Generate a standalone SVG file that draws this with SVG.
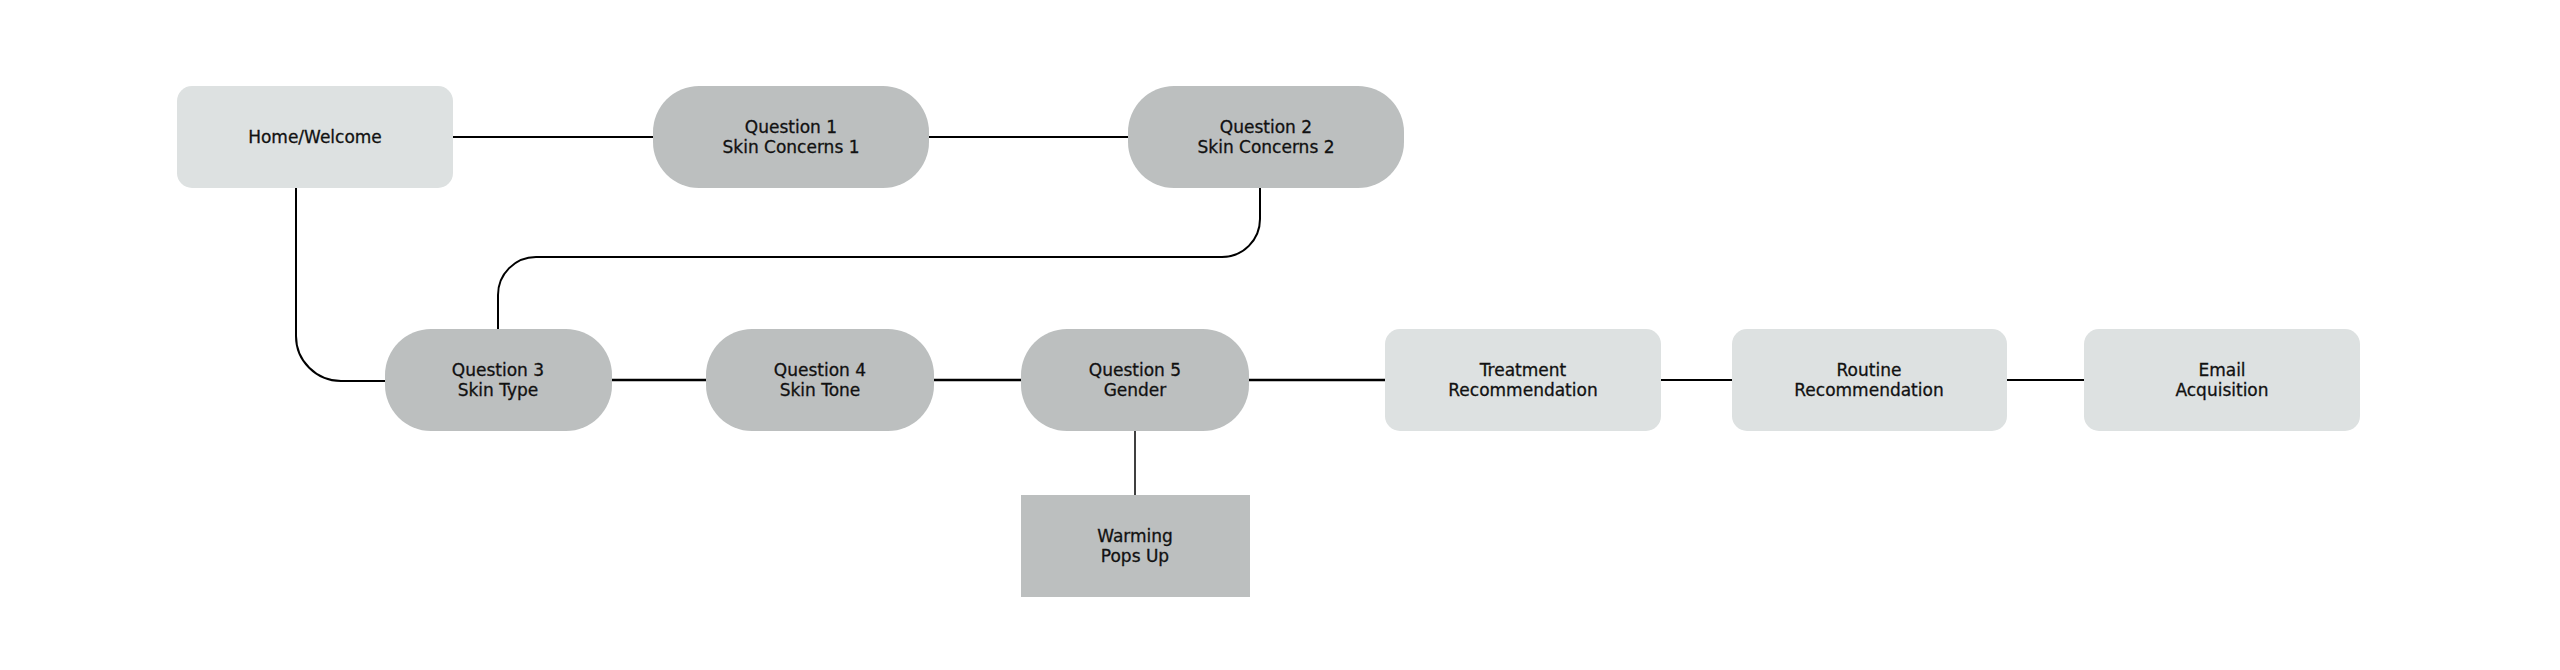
<svg xmlns="http://www.w3.org/2000/svg" width="2560" height="670" viewBox="0 0 2560 670">
<style>
.light{fill:#dde1e1}
.dark{fill:#bcbfbf}
.lbl{font-family:"DejaVu Sans","Liberation Sans",sans-serif;font-size:17px;fill:#111;stroke:#111;stroke-width:0.3;text-anchor:middle}
.c{fill:none;stroke:#000;stroke-width:2}
.thin{stroke-width:1.5}
.thick{stroke-width:2.5}
</style>
<rect width="2560" height="670" fill="#fff"/>
<g id="connectors">
<line class="c" x1="452" y1="137" x2="654" y2="137"/>
<line class="c" x1="928" y1="137" x2="1129" y2="137"/>
<path class="c" d="M1260 188 V219 A38 38 0 0 1 1222 257 H536 A38 38 0 0 0 498 295 V330"/>
<path class="c" d="M296 188 V336 A45 45 0 0 0 341 381 H386"/>
<line class="c thick" x1="611" y1="380" x2="707" y2="380"/>
<line class="c thick" x1="933" y1="380" x2="1022" y2="380"/>
<line class="c thick" x1="1248" y1="380" x2="1386" y2="380"/>
<line class="c" x1="1660" y1="380" x2="1733" y2="380"/>
<line class="c" x1="2006" y1="380" x2="2085" y2="380"/>
<line class="c thin" x1="1135" y1="430" x2="1135" y2="496"/>
</g>
<g id="home">
<rect class="light" x="177" y="86" width="276" height="102" rx="15"/>
<text class="lbl" x="315" y="143">Home/Welcome</text>
</g>
<g id="q1">
<rect class="dark" x="653" y="86" width="276" height="102" rx="46"/>
<text class="lbl" x="791" y="133">Question 1</text>
<text class="lbl" x="791" y="153">Skin Concerns 1</text>
</g>
<g id="q2">
<rect class="dark" x="1128" y="86" width="276" height="102" rx="46"/>
<text class="lbl" x="1266" y="133">Question 2</text>
<text class="lbl" x="1266" y="153">Skin Concerns 2</text>
</g>
<g id="q3">
<rect class="dark" x="385" y="329" width="227" height="102" rx="46"/>
<text class="lbl" x="498" y="376">Question 3</text>
<text class="lbl" x="498" y="396">Skin Type</text>
</g>
<g id="q4">
<rect class="dark" x="706" y="329" width="228" height="102" rx="46"/>
<text class="lbl" x="820" y="376">Question 4</text>
<text class="lbl" x="820" y="396">Skin Tone</text>
</g>
<g id="q5">
<rect class="dark" x="1021" y="329" width="228" height="102" rx="46"/>
<text class="lbl" x="1135" y="376">Question 5</text>
<text class="lbl" x="1135" y="396">Gender</text>
</g>
<g id="warming">
<rect class="dark" x="1021" y="495" width="229" height="102"/>
<text class="lbl" x="1135" y="542">Warming</text>
<text class="lbl" x="1135" y="562">Pops Up</text>
</g>
<g id="treatment">
<rect class="light" x="1385" y="329" width="276" height="102" rx="15"/>
<text class="lbl" x="1523" y="376">Treatment</text>
<text class="lbl" x="1523" y="396">Recommendation</text>
</g>
<g id="routine">
<rect class="light" x="1732" y="329" width="275" height="102" rx="15"/>
<text class="lbl" x="1869" y="376">Routine</text>
<text class="lbl" x="1869" y="396">Recommendation</text>
</g>
<g id="email">
<rect class="light" x="2084" y="329" width="276" height="102" rx="15"/>
<text class="lbl" x="2222" y="376">Email</text>
<text class="lbl" x="2222" y="396">Acquisition</text>
</g>
</svg>
